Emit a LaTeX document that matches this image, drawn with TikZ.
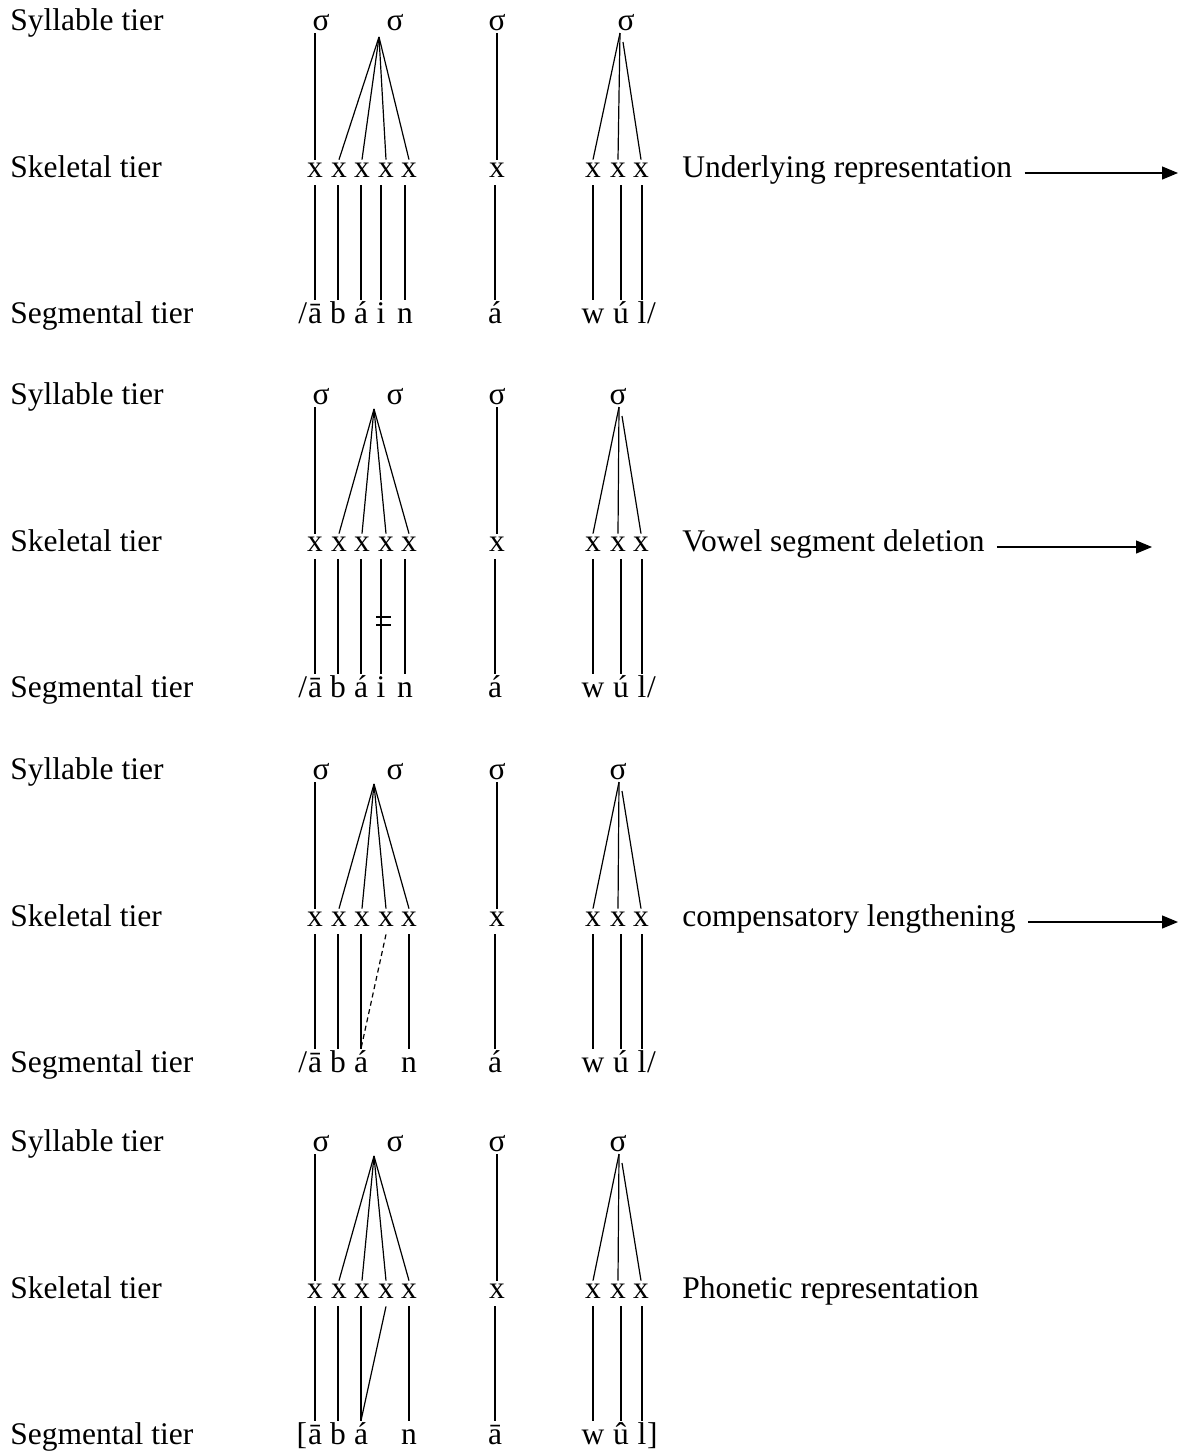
\documentclass[tikz,border=0pt]{standalone}
\usepackage{fontspec}
\setmainfont{Liberation Serif}
\usetikzlibrary{arrows.meta,calc}
\tikzset{
  lbl/.style={anchor=base west, inner sep=0pt},
  sig/.style={anchor=base, inner sep=0pt, text depth=1.5pt},
  skx/.style={anchor=base, inner sep=0pt, text height=8.5pt, text depth=4pt},
  seg/.style={anchor=base, inner sep=0pt, text height=11.5pt},
  brk/.style={inner sep=0pt},
  assoc/.style={line width=0.6pt},
  dassoc/.style={line width=0.6pt, dash pattern=on 2.5pt off 1.75pt},
  arr/.style={line width=0.6pt, shorten <=6pt, -{Triangle[length=8pt,width=6.5pt]}},
}
% #1 suffix, #2 apex x of sigma 2, #3 x of sigma 4, #4 apex x of sigma 4, #5 apex y of sigma 2
\newcommand\tierframe[5]{%
  \node[lbl] (L1#1) at (10,0) {Syllable tier};
  \node[lbl] (L2#1) at (10,147) {Skeletal tier};
  \node[lbl] (L3#1) at (10,293) {Segmental tier};
  \node[sig] (g1#1) at (321,0) {σ};
  \node[sig] (g2#1) at (395,0) {σ};
  \node[sig] (g3#1) at (497,0) {σ};
  \node[sig] (g4#1) at (#3,0) {σ};
  \foreach \n/\p in {1/315,2/339,3/362,4/386,5/409,6/497,7/593,8/618,9/641}
    \node[skx] (x\n#1) at (\p,147) {x};
  \coordinate (a2#1) at (#2,#5);
  \coordinate (a4#1) at (#4,3);
  \coordinate (b4#1) at ($(a4#1)+(3,9)$);
  \draw[assoc] (x1#1.north |- g1#1.south) -- (x1#1.north);
  \foreach \n in {2,3,4,5} \draw[assoc] (a2#1) -- (x\n#1.north);
  \draw[assoc] (x6#1.north |- g3#1.south) -- (x6#1.north);
  \draw[assoc] (a4#1) -- (x7#1.north);
  \draw[assoc] (a4#1) -- (x8#1.north);
  \draw[assoc] (b4#1) -- (x9#1.north);
}
\begin{document}
\begin{tikzpicture}[x=0.5pt,y=-0.5pt,font=\fontsize{15.75}{19}\selectfont]
\useasboundingbox (0,0) rectangle (1181,1452);

% ---------------- Block 1: underlying representation
\begin{scope}[shift={(0,30)}]
  \tierframe{a}{379}{626}{620}{7}
  \node[seg] (s1a) at (315,293) {ā};
  \node[seg] (s2a) at (338,293) {b};
  \node[seg] (s3a) at (361,293) {á};
  \node[seg] (s4a) at (381,293) {i};
  \node[seg] (s5a) at (405,293) {n};
  \node[seg] (s6a) at (495,293) {á};
  \node[seg] (s7a) at (593,293) {w};
  \node[seg] (s8a) at (621,293) {ú};
  \node[seg] (s9a) at (642,293) {l};
  \node[brk, anchor=base east] (ola) at (s1a.base west) {/};
  \node[brk, anchor=base west] (cla) at (s9a.base east) {/};
  \foreach \n in {1,...,9} \draw[assoc] (s\n a.north |- x\n a.south) -- (s\n a.north);
  \node[lbl] (da) at (682,147) {Underlying representation};
  \coordinate (ea) at (1178,143);
  \draw[arr] (da.east |- ea) -- (ea);
\end{scope}

% ---------------- Block 2: vowel segment deletion
\begin{scope}[shift={(0,404)}]
  \tierframe{b}{374}{618}{619}{5}
  \node[seg] (s1b) at (315,293) {ā};
  \node[seg] (s2b) at (338,293) {b};
  \node[seg] (s3b) at (361,293) {á};
  \node[seg] (s4b) at (381,293) {i};
  \node[seg] (s5b) at (405,293) {n};
  \node[seg] (s6b) at (495,293) {á};
  \node[seg] (s7b) at (593,293) {w};
  \node[seg] (s8b) at (621,293) {ú};
  \node[seg] (s9b) at (642,293) {l};
  \node[brk, anchor=base east] (olb) at (s1b.base west) {/};
  \node[brk, anchor=base west] (clb) at (s9b.base east) {/};
  \foreach \n in {1,...,9} \draw[assoc] (s\n b.north |- x\n b.south) -- (s\n b.north);
  \draw[assoc] (376,213) -- (391,213);
  \draw[assoc] (376,221) -- (391,221);
  \node[lbl] (db) at (682,147) {Vowel segment deletion};
  \coordinate (eb) at (1152,143);
  \draw[arr] (db.east |- eb) -- (eb);
\end{scope}

% ---------------- Block 3: compensatory lengthening
\begin{scope}[shift={(0,779)}]
  \tierframe{c}{374}{618}{619}{5}
  \node[seg] (s1c) at (315,293) {ā};
  \node[seg] (s2c) at (338,293) {b};
  \node[seg] (s3c) at (361,293) {á};
  \node[seg] (s5c) at (409,293) {n};
  \node[seg] (s6c) at (495,293) {á};
  \node[seg] (s7c) at (593,293) {w};
  \node[seg] (s8c) at (621,293) {ú};
  \node[seg] (s9c) at (642,293) {l};
  \node[brk, anchor=base east] (olc) at (s1c.base west) {/};
  \node[brk, anchor=base west] (clc) at (s9c.base east) {/};
  \foreach \n in {1,2,3,6,7,8,9} \draw[assoc] (s\n c.north |- x\n c.south) -- (s\n c.north);
  \draw[assoc] (x5c.south) -- (x5c.south |- s5c.north);
  \draw[dassoc] (x4c.south) -- (s3c.north);
  \node[lbl] (dc) at (682,147) {compensatory lengthening};
  \coordinate (ec) at (1178,143);
  \draw[arr] (dc.east |- ec) -- (ec);
\end{scope}

% ---------------- Block 4: phonetic representation
\begin{scope}[shift={(0,1151)}]
  \tierframe{d}{374}{618}{619}{5}
  \node[seg] (s1d) at (315,293) {ā};
  \node[seg] (s2d) at (338,293) {b};
  \node[seg] (s3d) at (361,293) {á};
  \node[seg] (s5d) at (409,293) {n};
  \node[seg] (s6d) at (495,293) {ā};
  \node[seg] (s7d) at (593,293) {w};
  \node[seg] (s8d) at (621,293) {û};
  \node[seg] (s9d) at (642,293) {l};
  \node[brk, anchor=base east] (old) at (s1d.base west) {[};
  \node[brk, anchor=base west] (cld) at (s9d.base east) {]};
  \foreach \n in {1,2,3,6,7,8,9} \draw[assoc] (s\n d.north |- x\n d.south) -- (s\n d.north);
  \draw[assoc] (x5d.south) -- (x5d.south |- s5d.north);
  \draw[assoc] (x4d.south) -- (s3d.north);
  \node[lbl] (dd) at (682,147) {Phonetic representation};
\end{scope}
\end{tikzpicture}
\end{document}
